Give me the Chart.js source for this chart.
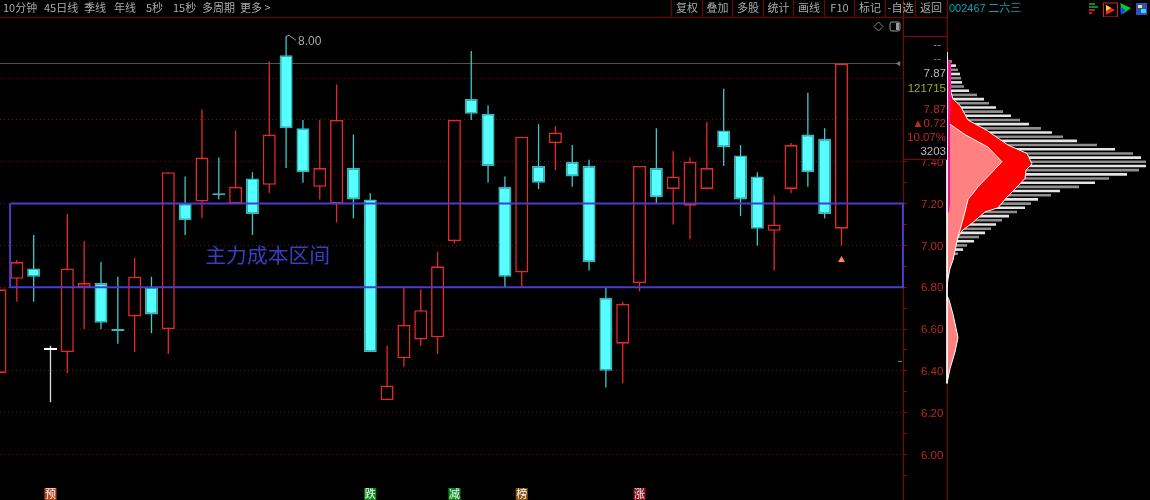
<!DOCTYPE html>
<html>
<head>
<meta charset="utf-8">
<script src="https://cdn.jsdelivr.net/npm/chart.js@4/dist/chart.umd.min.js"></script>
<style>
    html, body { margin: 0; padding: 0; background: #000; overflow: hidden; }
    #stage { position: relative; width: 1150px; height: 500px; background: #000; overflow: hidden;
             font-family: 'Noto Sans CJK SC', sans-serif; font-size: 11px; color: #aaa; }
    canvas { position: absolute; top: 0; }
    #priceCanvas { left: 0; }
    #profileCanvas { left: 945px; }
    .toolbar-line { position: absolute; left: 0; top: 17px; width: 947px; height: 1px; background: #7a0000; }
    .tab, .btn { position: absolute; top: 0; height: 17px; line-height: 15px; white-space: nowrap; }
    .btn { text-align: center; border-left: 1px solid #7a0000; width: 30px; }
    #cell { position: absolute; left: 904px; top: 18px; width: 43px; height: 141px; background: #000;
            border-bottom: 1px solid #8a0000; font-family: 'Liberation Sans', sans-serif; font-size: 11.5px; }
    #cell div { position: absolute; right: 1px; height: 14px; line-height: 14px; white-space: nowrap; }
    #cell .rule { left: -1px; right: 0; top: 18px; height: 1px; background: #8a0000; }
    .edge { position: absolute; left: 947px; width: 1px; background: #8a0000; }
    #quote { position: absolute; left: 949px; top: 0; height: 15px; line-height: 14px; color: #00a6b8; white-space: nowrap; }
    #quote b { font-family: 'Liberation Sans', sans-serif; font-weight: normal; font-size: 11px; }
    svg { position: absolute; }
</style>
</head>
<body>
<div id="stage">
    <canvas id="priceCanvas" width="947" height="500"></canvas>
    <canvas id="profileCanvas" width="205" height="500"></canvas>
    <div class="toolbar-line"></div>
    <div id="tabs"></div>
    <div id="buttons"></div>
    <div class="edge" style="top:0;height:52px"></div>
    <div class="edge" style="top:385px;height:115px"></div>
    <div id="cell"><div class="rule"></div></div>
    <div id="quote"><b>002467</b> 二六三</div>
    <svg style="left:873px;top:20px" width="30" height="14" viewBox="0 0 30 14">
        <path d="M5.5 2 L10 6.5 L5.5 11 L1 6.5 Z" fill="none" stroke="#888"/>
        <rect x="17" y="2" width="10" height="9" rx="2" fill="none" stroke="#999"/>
        <rect x="23" y="3" width="3" height="7" fill="#999"/>
    </svg>
    <svg style="left:1088px;top:1px" width="60" height="16" viewBox="0 0 60 16">
        <rect x="1" y="2" width="6" height="2" fill="#0a8a2a"/><rect x="1" y="5" width="9" height="2" fill="#0a8a2a"/>
        <rect x="1" y="8" width="6" height="2" fill="#c02020"/><rect x="1" y="11" width="3" height="2" fill="#c02020"/>
        <rect x="15.5" y="2" width="14" height="14" fill="none" stroke="#e02020"/>
        <path d="M18 4 L27 9 L18 14 Z" fill="#ff2020"/><path d="M18 4 L23 7 L18 10 Z" fill="#ffe020"/>
        <path d="M32 2 L43 7 L35 13 Z" fill="#00d020"/><path d="M32 6 L38 9 L33 14 Z" fill="#2040ff"/>
        <rect x="48" y="2" width="11" height="12" fill="#3050c0"/><rect x="50" y="4" width="4" height="3" fill="#ffe040"/><rect x="53" y="8" width="5" height="4" fill="#40d0ff"/>
    </svg>
</div>

<script>
// ========================================
// DATA
// ========================================
const candleIndex = [0, 1, 2, 3, 4, 5, 6, 7, 8, 9, 10, 11, 12, 13, 14, 15, 16, 17, 18, 19, 20, 21, 22, 23, 24, 25, 26, 27, 28, 29, 30, 31, 32, 33, 34, 35, 36, 37, 38, 39, 40, 41, 42, 43, 44, 45, 46, 47, 48, 49, 50];
const openPrices = [6.39, 6.84, 6.89, 6.50, 6.49, 6.80, 6.82, 6.60, 6.66, 6.80, 6.60, 7.20, 7.21, 7.25, 7.20, 7.32, 7.29, 7.91, 7.56, 7.28, 7.20, 7.37, 7.22, 6.26, 6.46, 6.55, 6.56, 7.02, 7.70, 7.63, 7.28, 6.87, 7.38, 7.49, 7.40, 7.38, 6.75, 6.53, 6.82, 7.37, 7.27, 7.19, 7.27, 7.55, 7.43, 7.33, 7.07, 7.27, 7.53, 7.51, 7.08];
const closePrices = [6.79, 6.92, 6.85, 6.50, 6.89, 6.82, 6.63, 6.59, 6.85, 6.67, 7.35, 7.12, 7.42, 7.24, 7.28, 7.15, 7.53, 7.56, 7.35, 7.37, 7.60, 7.22, 6.49, 6.33, 6.62, 6.69, 6.90, 7.60, 7.63, 7.38, 6.85, 7.52, 7.30, 7.54, 7.33, 6.92, 6.40, 6.72, 7.38, 7.23, 7.33, 7.40, 7.37, 7.47, 7.22, 7.08, 7.10, 7.48, 7.35, 7.15, 7.87];
const highPrices = [6.79, 6.93, 7.05, 6.52, 7.15, 7.02, 6.92, 6.85, 6.94, 6.85, 7.35, 7.33, 7.65, 7.42, 7.55, 7.35, 7.88, 8.00, 7.60, 7.60, 7.77, 7.53, 7.25, 6.52, 6.80, 6.79, 6.97, 7.60, 7.93, 7.67, 7.33, 7.52, 7.58, 7.57, 7.48, 7.41, 6.80, 6.73, 7.38, 7.56, 7.45, 7.42, 7.59, 7.75, 7.48, 7.35, 7.24, 7.49, 7.73, 7.56, 7.87];
const lowPrices = [6.39, 6.73, 6.73, 6.25, 6.39, 6.60, 6.60, 6.53, 6.49, 6.58, 6.48, 7.05, 7.13, 7.22, 7.20, 7.05, 7.25, 7.37, 7.30, 7.22, 7.11, 7.13, 6.49, 6.26, 6.42, 6.52, 6.48, 7.01, 7.60, 7.30, 6.80, 6.80, 7.27, 7.36, 7.28, 6.88, 6.32, 6.34, 6.78, 7.20, 7.10, 7.03, 7.27, 7.38, 7.14, 7.00, 6.88, 7.25, 7.28, 7.13, 7.00];

const tickValues = [5.9, 6.0, 6.1, 6.2, 6.3, 6.4, 6.5, 6.6, 6.7, 6.8, 6.9, 7.0, 7.1, 7.2, 7.3, 7.4, 7.5, 7.6, 7.7, 7.8, 7.9];
const majorTicks = [6.0, 6.2, 6.4, 6.6, 6.8, 7.0, 7.2, 7.4, 7.6, 7.8];

const costZoneLow = 6.8;
const costZoneHigh = 7.2;
const costZoneText = '主力成本区间';
const lastPrice = 7.87;
const highestPrice = 8.00;
const signalIndex = [3, 22, 27, 31, 38];
const signalText = ['预', '跌', '减', '榜', '涨'];
const signalColors = ['#b8441c', '#0e8a1e', '#0e8a1e', '#8a5010', '#8a1020'];

const profilePrices = [7.90, 7.88, 7.86, 7.84, 7.82, 7.80, 7.78, 7.76, 7.74, 7.72, 7.70, 7.68, 7.66, 7.64, 7.62, 7.60, 7.58, 7.56, 7.54, 7.52, 7.50, 7.48, 7.46, 7.44, 7.42, 7.40, 7.38, 7.36, 7.34, 7.32, 7.30, 7.28, 7.26, 7.24, 7.22, 7.20, 7.18, 7.16, 7.14, 7.12, 7.10, 7.08, 7.06, 7.04, 7.02, 7.00, 6.98, 6.96, 6.94, 6.92, 6.90, 6.88];
const profileTotal = [1, 5, 9, 11, 13, 14, 15, 17, 22, 30, 37, 42, 49, 56, 64, 73, 82, 94, 105, 116, 130, 150, 168, 186, 194, 199, 199, 192, 180, 162, 148, 132, 113, 104, 91, 84, 78, 70, 62, 55, 49, 44, 38, 32, 27, 20, 16, 11, 7, 5, 4, 3];

const redPrices = [7.77, 7.75, 7.70, 7.67, 7.60, 7.55, 7.48, 7.44, 7.39, 7.36, 7.32, 7.27, 7.22, 7.18, 7.16, 7.11, 7.07, 7.03, 7.01];
const redValues = [0, 3, 6, 13, 21, 40, 61, 80, 85, 79, 78, 68, 58, 51, 38, 26, 15, 10, 0];
const pinkPrices = [7.60, 7.58, 7.53, 7.47, 7.40, 7.34, 7.28, 7.22, 7.16, 7.04, 6.93, 6.89, 6.84, 6.80];
const pinkValues = [0, 3, 18, 41, 55, 43, 31, 21, 18, 11, 6, 3, 1, 0];
const lumpPrices = [6.76, 6.74, 6.67, 6.56, 6.49, 6.41, 6.34];
const lumpValues = [0, 2, 6, 11, 8, 3, 0];
const stripPrices = [7.90, 7.87, 7.75, 7.60, 7.40, 7.20, 7.16, 7.15];
const stripValues = [0, 4, 4, 3, 3, 3, 2, 0];
const baselinePrices = [7.93, 6.34];
const baselineValues = [0, 0];

const toolbarTabs = [['10分钟', 3], ['45日线', 44], ['季线', 84], ['年线', 114], ['5秒', 146], ['15秒', 173], ['多周期', 202], ['更多 >', 240]];
const toolbarButtons = ['复权', '叠加', '多股', '统计', '画线', 'F10', '标记', '-自选', '返回'];
const cellRows = [['--', '#999', 19, 6], ['--', '#8a8a10', 33, 6], ['7.87', '#bbb', 48, 1], ['121715', '#a8a820', 63, 1], ['7.87', '#c02828', 84, 1], ['▲0.72', '#c02828', 98, 1], ['10.07%', '#c02828', 112, 1], ['3203', '#bbb', 126, 1]];

// ========================================
// STATIC PANELS
// ========================================
toolbarTabs.forEach(([label, left]) => {
    const el = document.createElement('div');
    el.className = 'tab';
    el.style.left = left + 'px';
    el.textContent = label;
    document.getElementById('tabs').appendChild(el);
});
toolbarButtons.forEach((label, i) => {
    const el = document.createElement('div');
    el.className = 'btn';
    el.style.left = (671 + i * 30.5) + 'px';
    el.textContent = label;
    document.getElementById('buttons').appendChild(el);
});
cellRows.forEach(([label, color, top, right]) => {
    const el = document.createElement('div');
    el.style.top = top + 'px';
    el.style.right = right + 'px';
    el.style.color = color;
    el.textContent = label;
    document.getElementById('cell').appendChild(el);
});

// ========================================
// SCALE SETUP
// ========================================
const PRICE_MIN = 5.782;
const PRICE_MAX = 8.174;
const PX_PER_CANDLE = 16.83;
const RED = '#e82828';
const CYAN = '#55ffff';
const CYAN_WICK = '#3ccaca';

const isFlat = i => openPrices[i] === closePrices[i];
const isUp = i => closePrices[i] > openPrices[i];
const wickColor = i => isFlat(i) ? '#dddddd' : (isUp(i) ? RED : CYAN_WICK);
const bodyEdge = i => isFlat(i) ? '#ffffff' : (isUp(i) ? RED : '#38b8b8');
const bodyFill = i => isFlat(i) ? '#ffffff' : (isUp(i) ? '#000000' : CYAN);

// Annotations that are read through the chart's scales
const notesPlugin = {
    id: 'chartNotes',
    afterDatasetsDraw(chart) {
        const { ctx, scales: { x, y } } = chart;
        ctx.save();

        ctx.fillStyle = '#3c3cc4';
        ctx.font = "20.8px 'Noto Sans CJK SC'";
        ctx.textBaseline = 'middle';
        ctx.fillText(costZoneText, x.getPixelForValue(12.2), y.getPixelForValue(6.955));

        // Highest price flag
        const topX = x.getPixelForValue(candleIndex[highPrices.indexOf(highestPrice)]);
        const topY = y.getPixelForValue(highestPrice);
        ctx.strokeStyle = '#999';
        ctx.lineWidth = 1;
        ctx.beginPath();
        ctx.moveTo(topX, topY);
        ctx.lineTo(topX + 3, topY - 1);
        ctx.lineTo(topX + 10, topY + 4);
        ctx.stroke();
        ctx.fillStyle = '#a8a8a8';
        ctx.font = "12px 'Liberation Sans'";
        ctx.fillText(highestPrice.toFixed(2), topX + 12, topY + 5);

        // Signal badges at the bottom edge
        signalIndex.forEach((idx, i) => {
            const cx = x.getPixelForValue(idx);
            ctx.fillStyle = signalColors[i];
            ctx.fillRect(cx - 6, 488, 12, 12);
            ctx.fillStyle = '#f4f4f4';
            ctx.font = "11px 'Noto Sans CJK SC'";
            ctx.textAlign = 'center';
            ctx.fillText(signalText[i], cx, 494);
        });
        ctx.restore();
    }
};

// ========================================
// PRICE CHART
// ========================================
new Chart(document.getElementById('priceCanvas'), {
    type: 'bar',
    data: {
        datasets: [
            {
                type: 'line',
                data: [{ x: 0, y: lastPrice }, { x: 53.4, y: lastPrice }],
                borderColor: '#555555',
                borderWidth: 1,
                pointRadius: [0, 3],
                pointStyle: 'triangle',
                pointRotation: 270,
                pointBackgroundColor: '#777',
                pointBorderWidth: 0,
                order: 6
            },
            {
                data: candleIndex.map(i => ({ x: i, y: [lowPrices[i], highPrices[i]] })),
                barThickness: 1.3,
                grouped: false,
                inflateAmount: 0,
                backgroundColor: candleIndex.map(wickColor),
                order: 5
            },
            {
                data: candleIndex.map(i => ({
                    x: i,
                    y: [openPrices[i], isFlat(i) ? openPrices[i] + 0.01 : closePrices[i]]
                })),
                barThickness: 13,
                grouped: false,
                inflateAmount: 0,
                borderSkipped: false,
                borderWidth: 1.6,
                borderColor: candleIndex.map(bodyEdge),
                backgroundColor: candleIndex.map(bodyFill),
                order: 4
            },
            {
                // Marker under the last candle
                type: 'line',
                data: [{ x: 50, y: 6.93 }],
                showLine: false,
                pointStyle: 'triangle',
                pointRadius: 4,
                pointBackgroundColor: '#ff8a50',
                pointBorderWidth: 0,
                order: 3
            },
            {
                // Short green mark beside the axis
                type: 'line',
                data: [{ x: 53.36, y: 6.445 }],
                showLine: false,
                pointStyle: 'dash',
                pointRadius: 4,
                pointBorderColor: '#22cc22',
                pointBorderWidth: 1,
                clip: false,
                order: 3
            },
            {
                // Cost zone rectangle
                type: 'line',
                data: [
                    { x: 0.6, y: costZoneHigh },
                    { x: 53.65, y: costZoneHigh },
                    { x: 53.65, y: costZoneLow },
                    { x: 0.6, y: costZoneLow },
                    { x: 0.6, y: costZoneHigh }
                ],
                borderColor: '#4a3ccc',
                borderWidth: 2,
                pointRadius: 0,
                tension: 0,
                clip: false,
                order: 1
            }
        ]
    },
    options: {
        responsive: false,
        animation: false,
        events: [],
        layout: { autoPadding: false, padding: 0 },
        plugins: { legend: { display: false }, tooltip: { enabled: false } },
        scales: {
            x: { type: 'linear', display: false, offset: false, min: 0, max: 903 / PX_PER_CANDLE },
            y: {
                position: 'right',
                min: PRICE_MIN,
                max: PRICE_MAX,
                afterFit: scale => {
                    // Axis runs the full canvas height, so no label padding at its ends
                    scale.width = 44;
                    scale.paddingTop = 0;
                    scale.paddingBottom = 0;
                },
                afterBuildTicks: scale => { scale.ticks = tickValues.map(value => ({ value })); },
                border: { color: '#8a0000', width: 1, dash: [1, 3] },
                grid: {
                    color: c => majorTicks.includes(c.tick && c.tick.value) ? '#7a0c0c' : 'transparent',
                    tickColor: '#a00000',
                    tickLength: 4,
                    tickBorderDash: [],
                    lineWidth: 1
                },
                ticks: {
                    color: '#b82828',
                    padding: 14,
                    labelOffset: 1,
                    autoSkip: false,
                    font: { family: 'Liberation Sans', size: 11.5 },
                    callback: value => majorTicks.includes(value) ? value.toFixed(2) : ''
                }
            }
        }
    },
    plugins: [notesPlugin]
});

// ========================================
// CHIP PROFILE
// ========================================
const toCurve = (prices, values) => prices.map((p, i) => ({ x: values[i], y: p }));
const areaDataset = (prices, values, color, order) => ({
    type: 'line',
    data: toCurve(prices, values),
    fill: 'shape',
    backgroundColor: color,
    borderColor: '#ffffff',
    borderWidth: 1,
    pointRadius: 0,
    clip: false,
    order
});

new Chart(document.getElementById('profileCanvas'), {
    type: 'bar',
    data: {
        datasets: [
            {
                data: profilePrices.map((p, i) => ({ x: profileTotal[i], y: p })),
                barThickness: 2.6,
                inflateAmount: 0,
                backgroundColor: profilePrices.map((p, i) => i % 2 ? '#8e8e8e' : '#e4e4e4'),
                order: 9
            },
            areaDataset(redPrices, redValues, '#ff0000', 5),
            areaDataset(pinkPrices, pinkValues, '#ff8080', 4),
            areaDataset(lumpPrices, lumpValues, '#ff8080', 4),
            {
                type: 'line',
                data: toCurve(stripPrices, stripValues),
                fill: 'shape',
                backgroundColor: '#ee1090',
                borderWidth: 0,
                pointRadius: 0,
                clip: false,
                order: 3
            },
            {
                type: 'line',
                data: toCurve(baselinePrices, baselineValues),
                borderColor: '#ffffff',
                borderWidth: 1,
                pointRadius: 0,
                clip: false,
                order: 1
            }
        ]
    },
    options: {
        indexAxis: 'y',
        responsive: false,
        animation: false,
        events: [],
        layout: { autoPadding: false, padding: 0 },
        plugins: { legend: { display: false }, tooltip: { enabled: false } },
        scales: {
            x: { type: 'linear', display: false, min: -2, max: 203 },
            y: { type: 'linear', display: false, offset: false, min: PRICE_MIN, max: PRICE_MAX }
        }
    }
});
</script>
</body>
</html>
